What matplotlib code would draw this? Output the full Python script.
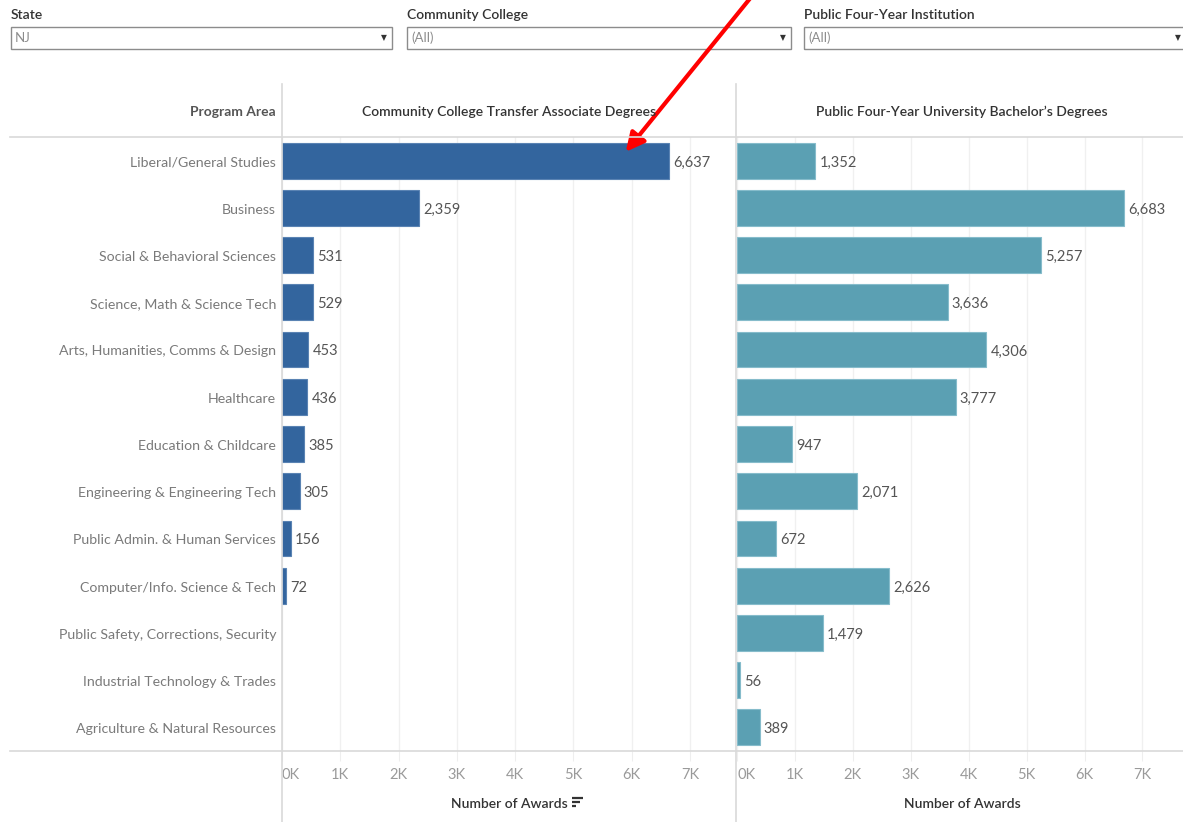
import matplotlib
matplotlib.use("Agg")
import matplotlib.pyplot as plt
from matplotlib.lines import Line2D
from matplotlib.patches import Rectangle, FancyArrowPatch
from matplotlib.ticker import FuncFormatter
import numpy as np

plt.rcParams["font.family"] = ["Lato", "DejaVu Sans"]

programs = [
    "Liberal/General Studies",
    "Business",
    "Social & Behavioral Sciences",
    "Science, Math & Science Tech",
    "Arts, Humanities, Comms & Design",
    "Healthcare",
    "Education & Childcare",
    "Engineering & Engineering Tech",
    "Public Admin. & Human Services",
    "Computer/Info. Science & Tech",
    "Public Safety, Corrections, Security",
    "Industrial Technology & Trades",
    "Agriculture & Natural Resources",
]
cc_awards = [6637, 2359, 531, 529, 453, 436, 385, 305, 156, 72, None, None, None]
univ_awards = [1352, 6683, 5257, 3636, 4306, 3777, 947, 2071, 672, 2626, 1479, 56, 389]
ticks = [0, 1000, 2000, 3000, 4000, 5000, 6000, 7000]

W, H = 1183, 822
fig = plt.figure(figsize=(W / 100, H / 100), dpi=100)


def fx(x):
    return x / W


def fy(y):
    return 1 - y / H


def hline(y, x0, x1, color="#d9d9d9", lw=1.2):
    fig.add_artist(Line2D([fx(x0), fx(x1)], [fy(y), fy(y)], color=color, lw=lw))


def vline(x, y0, y1, color="#d9d9d9", lw=1.2):
    fig.add_artist(Line2D([fx(x), fx(x)], [fy(y0), fy(y1)], color=color, lw=lw))


# filter controls across the top
filters = [("State", "NJ", 11, 392), ("Community College", "(All)", 407, 791),
           ("Public Four-Year Institution", "(All)", 804, 1190)]
for label, value, x0, x1 in filters:
    fig.text(fx(x0), fy(15), label, fontsize=10, color="#333333",
             fontweight="semibold", va="center", ha="left")
    fig.add_artist(Rectangle((fx(x0), fy(49)), fx(x1 - x0), (49 - 27) / H,
                             transform=fig.transFigure, fill=False,
                             edgecolor="#8c8c8c", lw=1.0))
    fig.text(fx(x0 + 4), fy(38), value, fontsize=9.5, color="#8c8c8c",
             va="center", ha="left")
    arrow_x = x1 - 8 if x1 < W else W - 5
    fig.text(fx(arrow_x), fy(38), "\u25bc", fontsize=5.5, color="#333333",
             va="center", ha="center")

top, bottom = 137, 751
y = np.arange(len(programs))


def panel(x0, x1, values, color, edge, xmax):
    ax = fig.add_axes([fx(x0), fy(bottom), fx(x1 - x0), (bottom - top) / H])
    ys = [yi for yi, v in zip(y, values) if v is not None]
    vs = [v for v in values if v is not None]
    ax.barh(ys, vs, height=0.76, color=color, edgecolor=edge, lw=0.8, zorder=2)
    for yi, v in zip(ys, vs):
        ax.text(v + 70, yi + 0.04, f"{v:,}", va="center", ha="left",
                fontsize=10.5, color="#555555", zorder=3)
    ax.set_ylim(len(programs) - 0.5, -0.5)
    ax.set_xlim(0, xmax)
    ax.set_yticks([])
    ax.set_xticks(ticks)
    ax.xaxis.set_major_formatter(FuncFormatter(lambda v, p: f"{v / 1000:.0f}K"))
    ax.tick_params(axis="x", length=7, color="#eeeeee", labelcolor="#9a9a9a",
                   labelsize=10.5, pad=5)
    ax.get_xticklabels()[0].set_horizontalalignment("left")
    ax.grid(True, axis="x", color="#f0f0f0", lw=1.0, zorder=0)
    for s in ax.spines.values():
        s.set_visible(False)
    return ax


ax_l = panel(282, 736, cc_awards, "#33659e", "#5a83b3", 7790)
ax_r = panel(737, 1183, univ_awards, "#5ba0b3", "#86bccb", 7700)

# row labels
for yi, name in zip(y, programs):
    ax_l.text(-0.013, yi + 0.04, name, transform=ax_l.get_yaxis_transform(),
              ha="right", va="center", fontsize=10.2, color="#7a7a7a")

# headers
fig.text(fx(276), fy(112), "Program Area", ha="right", va="center",
         fontsize=10, fontweight="bold", color="#555555")
fig.text(fx(509), fy(112), "Community College Transfer Associate Degrees",
         ha="center", va="center", fontsize=10, fontweight="semibold", color="#333333")
fig.text(fx(962), fy(112), "Public Four-Year University Bachelor\u2019s Degrees",
         ha="center", va="center", fontsize=10, fontweight="semibold", color="#333333")

# axis titles
fig.text(fx(509), fy(804), "Number of Awards", ha="center", va="center",
         fontsize=10, fontweight="semibold", color="#333333")
fig.text(fx(962), fy(804), "Number of Awards", ha="center", va="center",
         fontsize=10, fontweight="semibold", color="#333333")

# sort icon next to the left axis title
for yy, length in [(798, 11), (802, 8), (806, 4)]:
    fig.add_artist(Line2D([fx(572), fx(572 + length)], [fy(yy), fy(yy)],
                          color="#333333", lw=1.6, solid_capstyle="butt"))

# separators
hline(top, 10, W)
hline(bottom, 10, W)
vline(282, 84, H)
vline(736, 84, H)

# red annotation arrow
fig.add_artist(FancyArrowPatch(
    (fx(752), fy(-4)), (fx(624), fy(154)), transform=fig.transFigure,
    arrowstyle="-|>", mutation_scale=28, color="#ff0000", lw=3))

fig.savefig("out.png", dpi=100)
